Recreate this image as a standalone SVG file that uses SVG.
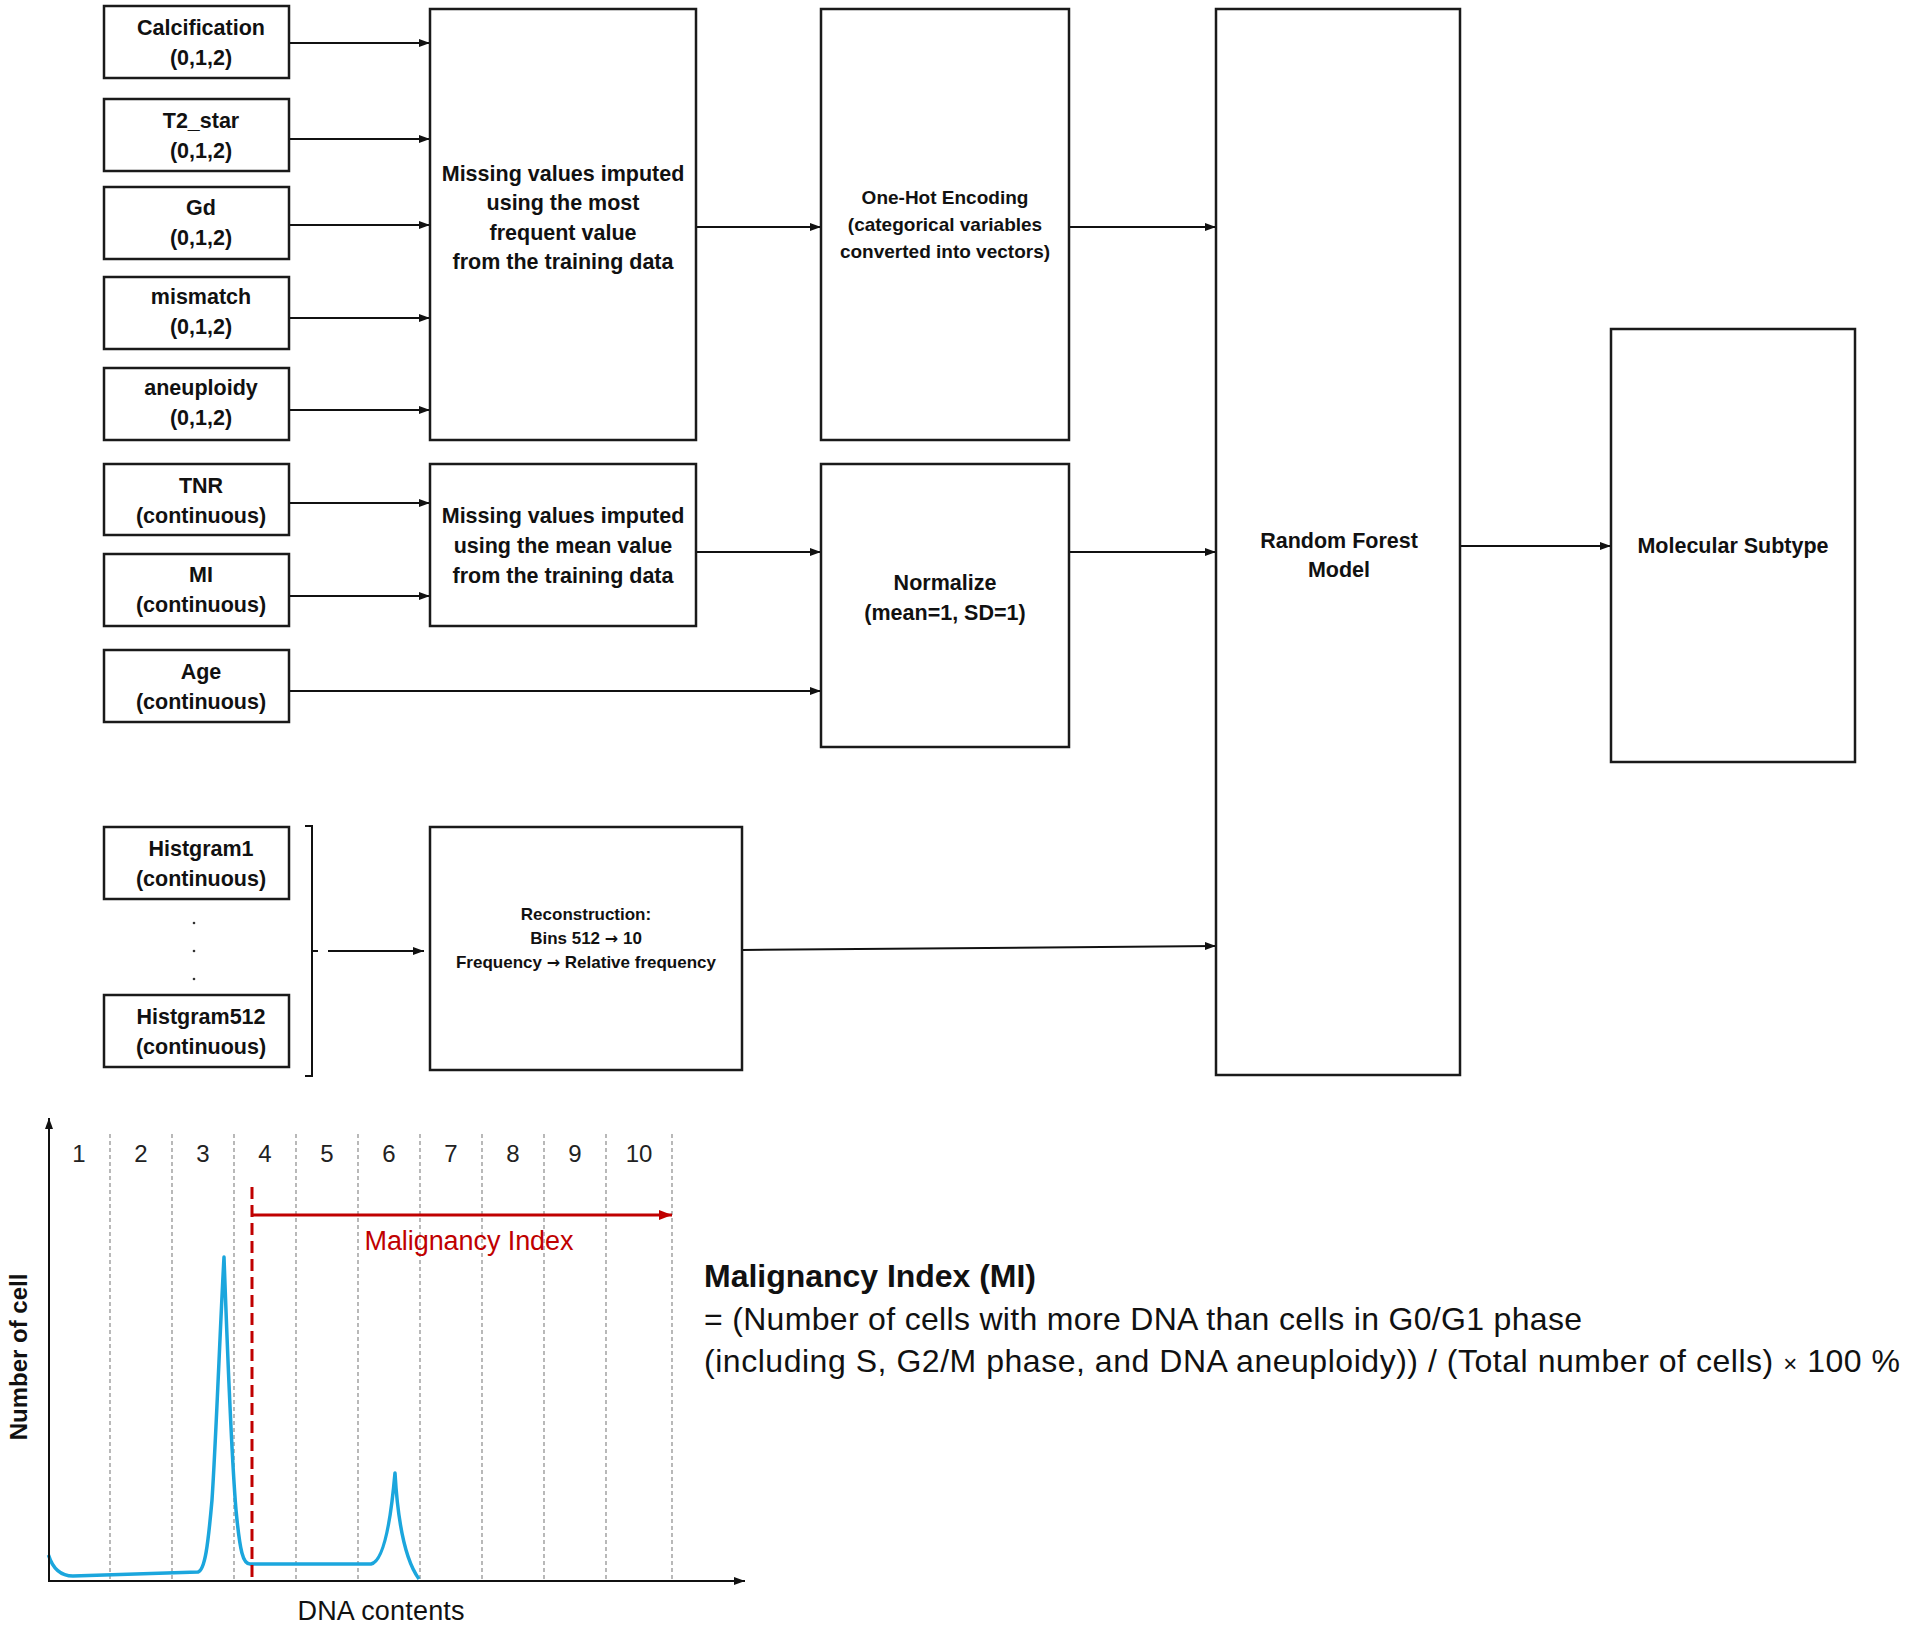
<svg xmlns="http://www.w3.org/2000/svg" width="1907" height="1630" viewBox="0 0 1907 1630">
<defs>
<style>
.box{fill:#fff;stroke:#1a1a1a;stroke-width:2.5}
.t{font-family:'Liberation Sans',Arial,sans-serif;font-weight:bold;font-size:21.5px;fill:#111;text-anchor:middle}
.ts{font-size:19px}
.tr{font-size:17px}
.arw{font-family:'DejaVu Sans',sans-serif;font-weight:bold;font-size:16px}
.c{stroke:#111;stroke-width:2;fill:none}
.grid{stroke:#8a8a8a;stroke-width:1.2;stroke-dasharray:4 3}
.num{font-family:'Liberation Sans',Arial,sans-serif;font-size:24px;fill:#222;text-anchor:middle}
.rt{font-family:'Liberation Sans',Arial,sans-serif;font-size:32px;fill:#111}
</style>
<marker id="ah" markerWidth="12" markerHeight="10" refX="11" refY="5" orient="auto" markerUnits="userSpaceOnUse"><path d="M0,1 L11,5 L0,9 z" fill="#111"/></marker>
<marker id="ahr" markerWidth="14" markerHeight="12" refX="13" refY="6" orient="auto" markerUnits="userSpaceOnUse"><path d="M0,1 L13,6 L0,11 z" fill="#C00000"/></marker>
</defs>
<rect width="1907" height="1630" fill="#fff"/>

<g id="connectors">
<line class="c" x1="289" y1="43" x2="430" y2="43" marker-end="url(#ah)"/>
<line class="c" x1="289" y1="139" x2="430" y2="139" marker-end="url(#ah)"/>
<line class="c" x1="289" y1="225" x2="430" y2="225" marker-end="url(#ah)"/>
<line class="c" x1="289" y1="318" x2="430" y2="318" marker-end="url(#ah)"/>
<line class="c" x1="289" y1="410" x2="430" y2="410" marker-end="url(#ah)"/>
<line class="c" x1="696" y1="227" x2="821" y2="227" marker-end="url(#ah)"/>
<line class="c" x1="1069" y1="227" x2="1216" y2="227" marker-end="url(#ah)"/>
<line class="c" x1="289" y1="503" x2="430" y2="503" marker-end="url(#ah)"/>
<line class="c" x1="289" y1="596" x2="430" y2="596" marker-end="url(#ah)"/>
<line class="c" x1="696" y1="552" x2="821" y2="552" marker-end="url(#ah)"/>
<line class="c" x1="289" y1="691" x2="821" y2="691" marker-end="url(#ah)"/>
<line class="c" x1="1069" y1="552" x2="1216" y2="552" marker-end="url(#ah)"/>
<line class="c" x1="328" y1="951" x2="424" y2="951" marker-end="url(#ah)"/>
<line class="c" x1="742" y1="950" x2="1216" y2="946" marker-end="url(#ah)"/>
<line class="c" x1="1460" y1="546" x2="1611" y2="546" marker-end="url(#ah)"/>
<path class="c" d="M305,826 L312,826 L312,1076 L305,1076 M312,951 L318,951"/>
</g>

<g id="n-calcification"><rect class="box" x="104" y="6" width="185" height="72"/><text class="t" x="201" y="35">Calcification</text><text class="t" x="201" y="65">(0,1,2)</text></g>
<g id="n-t2star"><rect class="box" x="104" y="99" width="185" height="72"/><text class="t" x="201" y="128">T2_star</text><text class="t" x="201" y="158">(0,1,2)</text></g>
<g id="n-gd"><rect class="box" x="104" y="187" width="185" height="72"/><text class="t" x="201" y="215">Gd</text><text class="t" x="201" y="245">(0,1,2)</text></g>
<g id="n-mismatch"><rect class="box" x="104" y="277" width="185" height="72"/><text class="t" x="201" y="304">mismatch</text><text class="t" x="201" y="334">(0,1,2)</text></g>
<g id="n-aneuploidy"><rect class="box" x="104" y="368" width="185" height="72"/><text class="t" x="201" y="395">aneuploidy</text><text class="t" x="201" y="425">(0,1,2)</text></g>
<g id="n-tnr"><rect class="box" x="104" y="464" width="185" height="71"/><text class="t" x="201" y="493">TNR</text><text class="t" x="201" y="523">(continuous)</text></g>
<g id="n-mi"><rect class="box" x="104" y="554" width="185" height="72"/><text class="t" x="201" y="582">MI</text><text class="t" x="201" y="612">(continuous)</text></g>
<g id="n-age"><rect class="box" x="104" y="650" width="185" height="72"/><text class="t" x="201" y="679">Age</text><text class="t" x="201" y="709">(continuous)</text></g>
<g id="n-hist1"><rect class="box" x="104" y="827" width="185" height="72"/><text class="t" x="201" y="856">Histgram1</text><text class="t" x="201" y="886">(continuous)</text></g>
<g id="n-dots"><circle cx="194" cy="923" r="1.3" fill="#333"/><circle cx="194" cy="951" r="1.3" fill="#333"/><circle cx="194" cy="979" r="1.3" fill="#333"/></g>
<g id="n-hist512"><rect class="box" x="104" y="995" width="185" height="72"/><text class="t" x="201" y="1024">Histgram512</text><text class="t" x="201" y="1054">(continuous)</text></g>

<g id="n-mv1"><rect class="box" x="430" y="9" width="266" height="431"/>
<text class="t" x="563" y="181">Missing values imputed</text><text class="t" x="563" y="210">using the most</text><text class="t" x="563" y="240">frequent value</text><text class="t" x="563" y="269">from the training data</text></g>
<g id="n-mv2"><rect class="box" x="430" y="464" width="266" height="162"/>
<text class="t" x="563" y="523">Missing values imputed</text><text class="t" x="563" y="553">using the mean value</text><text class="t" x="563" y="583">from the training data</text></g>
<g id="n-onehot"><rect class="box" x="821" y="9" width="248" height="431"/>
<text class="t ts" x="945" y="204">One-Hot Encoding</text><text class="t ts" x="945" y="231">(categorical variables</text><text class="t ts" x="945" y="258">converted into vectors)</text></g>
<g id="n-normalize"><rect class="box" x="821" y="464" width="248" height="283"/>
<text class="t" x="945" y="590">Normalize</text><text class="t" x="945" y="620">(mean=1, SD=1)</text></g>
<g id="n-recon"><rect class="box" x="430" y="827" width="312" height="243"/>
<text class="t tr" x="586" y="920">Reconstruction:</text><text class="t tr" x="586" y="944">Bins 512 <tspan class="arw">→</tspan> 10</text><text class="t tr" x="586" y="968">Frequency <tspan class="arw">→</tspan> Relative frequency</text></g>
<g id="n-rf"><rect class="box" x="1216" y="9" width="244" height="1066"/>
<text class="t" x="1339" y="548">Random Forest</text><text class="t" x="1339" y="577">Model</text></g>
<g id="n-ms"><rect class="box" x="1611" y="329" width="244" height="433"/>
<text class="t" x="1733" y="553">Molecular Subtype</text></g>

<g id="chart">
<g>
<line class="grid" x1="110" y1="1134" x2="110" y2="1580"/>
<line class="grid" x1="172" y1="1134" x2="172" y2="1580"/>
<line class="grid" x1="234" y1="1134" x2="234" y2="1580"/>
<line class="grid" x1="296" y1="1134" x2="296" y2="1580"/>
<line class="grid" x1="358" y1="1134" x2="358" y2="1580"/>
<line class="grid" x1="420" y1="1134" x2="420" y2="1580"/>
<line class="grid" x1="482" y1="1134" x2="482" y2="1580"/>
<line class="grid" x1="544" y1="1134" x2="544" y2="1580"/>
<line class="grid" x1="606" y1="1134" x2="606" y2="1580"/>
<line class="grid" x1="672" y1="1134" x2="672" y2="1580"/>
</g>
<g>
<text class="num" x="79" y="1162">1</text><text class="num" x="141" y="1162">2</text><text class="num" x="203" y="1162">3</text><text class="num" x="265" y="1162">4</text><text class="num" x="327" y="1162">5</text><text class="num" x="389" y="1162">6</text><text class="num" x="451" y="1162">7</text><text class="num" x="513" y="1162">8</text><text class="num" x="575" y="1162">9</text><text class="num" x="639" y="1162">10</text>
</g>
<path d="M48.5,1555 Q55,1576 73,1576 L198,1572 C205,1570 208,1545 212,1500 C216,1440 220,1330 224,1257 C227,1340 231,1450 236,1510 C240,1552 243,1564 250,1564 L371,1564 C382,1562 390,1530 395,1473 C398,1525 405,1560 419,1579" fill="none" stroke="#1BA6DD" stroke-width="3.5" stroke-linejoin="round"/>
<line x1="252" y1="1187" x2="252" y2="1580" stroke="#C00000" stroke-width="3" stroke-dasharray="12 6"/>
<line x1="252" y1="1215" x2="672" y2="1215" stroke="#C00000" stroke-width="3" marker-end="url(#ahr)"/>
<text x="469" y="1250" font-family="'Liberation Sans',Arial,sans-serif" font-size="27" fill="#C00000" text-anchor="middle" textLength="209">Malignancy Index</text>
<line class="c" x1="49" y1="1582" x2="49" y2="1118" marker-end="url(#ah)"/>
<line class="c" x1="48" y1="1581" x2="745" y2="1581" marker-end="url(#ah)"/>
<text transform="translate(27,1357) rotate(-90)" font-family="'Liberation Sans',Arial,sans-serif" font-weight="bold" font-size="24" fill="#111" text-anchor="middle">Number of cell</text>
<text x="381" y="1620" font-family="'Liberation Sans',Arial,sans-serif" font-size="27" fill="#111" text-anchor="middle" textLength="167">DNA contents</text>
</g>

<g id="mi-formula">
<text class="rt" x="704" y="1287" font-weight="bold" textLength="332">Malignancy Index (MI)</text>
<text class="rt" x="704" y="1330" textLength="878">= (Number of cells with more DNA than cells in G0/G1 phase</text>
<text class="rt" x="704" y="1372" textLength="1196">(including S, G2/M phase, and DNA aneuploidy)) / (Total number of cells) <tspan font-size="24">×</tspan> 100 %</text>
</g>
</svg>
